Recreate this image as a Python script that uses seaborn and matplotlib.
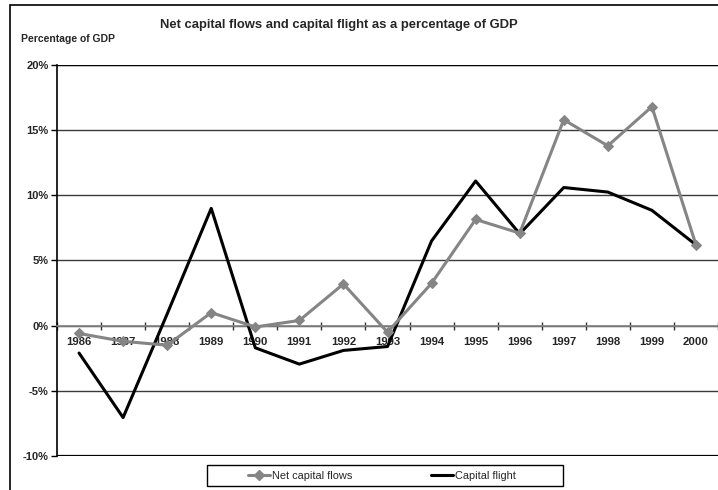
import numpy as np
import pandas as pd
import matplotlib
matplotlib.use("Agg")
import matplotlib.pyplot as plt
from matplotlib.ticker import FixedLocator, FuncFormatter
from matplotlib.lines import Line2D
from matplotlib.patches import Rectangle
import seaborn as sns

years = ["1986", "1987", "1988", "1989", "1990", "1991", "1992", "1993",
         "1994", "1995", "1996", "1997", "1998", "1999", "2000"]
net_capital_flows = [-0.6, -1.2, -1.5, 1.0, -0.1, 0.4, 3.2, -0.5,
                     3.25, 8.15, 7.1, 15.8, 13.8, 16.8, 6.2]
capital_flight = [-2.1, -7.05, 0.9, 9.0, -1.7, -2.95, -1.9, -1.6,
                  6.5, 11.1, 7.05, 10.6, 10.25, 8.85, 6.2]
y_ticks = [-10, -5, 0, 5, 10, 15, 20]

sns.set_theme(style="white")
plt.rcParams['font.family'] = ['Liberation Sans', 'DejaVu Sans']

pos = np.arange(len(years))
df = pd.DataFrame({"pos": pos, "net": net_capital_flows, "flight": capital_flight})

fig = plt.figure(figsize=(7.18, 4.9), dpi=100)
ax = fig.add_axes([57/718, 1 - 456/490, 661/718, (456 - 65)/490])

GRAY = "#858585"
sns.lineplot(data=df, x="pos", y="flight", ax=ax, color="black", lw=2.2, zorder=3)
sns.lineplot(data=df, x="pos", y="net", ax=ax, color=GRAY, lw=2.2, marker="D",
             markersize=5, markeredgecolor=GRAY, zorder=4)

ax.set_xlim(-0.5, len(years) - 0.5)
ax.set_ylim(y_ticks[0], y_ticks[-1])
ax.set_xlabel("")
ax.set_ylabel("")

# y axis
ax.yaxis.set_major_locator(FixedLocator(y_ticks))
ax.yaxis.set_major_formatter(FuncFormatter(lambda v, p: f"{int(v)}%"))
ax.tick_params(axis="y", which="major", direction="out", length=4, width=1,
               color="black", left=True, labelsize=8, pad=2)
for lab in ax.get_yticklabels():
    lab.set_fontweight("bold")
ax.grid(axis="y", color="#3a3a3a", lw=1)
ax.grid(axis="x", visible=False)

# x axis at zero
ax.spines["bottom"].set_position(("data", 0))
ax.spines["bottom"].set_color(GRAY)
ax.spines["bottom"].set_linewidth(1.2)
ax.spines["right"].set_visible(False)
ax.spines["top"].set_visible(False)
ax.spines["left"].set_color("black")
ax.spines["left"].set_linewidth(1.2)
ax.set_xticks(pos)
ax.set_xticklabels(years, fontsize=8.2, fontweight="bold")
ax.set_xticks(np.arange(-0.5, len(years) - 0.5 + 1), minor=True)
ax.tick_params(axis="x", which="major", length=0, pad=8, bottom=True)
ax.tick_params(axis="x", which="minor", direction="inout", length=6, width=1,
               color="#333333", bottom=True)
ax.axhline(y_ticks[0], color="black", lw=1.6, zorder=2)
ax.axhline(y_ticks[-1], color="black", lw=1.6, zorder=2)

# titles
fig.text(338.5/718, 1 - 25/490, "Net capital flows and capital flight as a percentage of GDP",
         ha="center", va="center", fontsize=9.4, fontweight="bold")
fig.text(21/718, 1 - 39.5/490, "Percentage of GDP", ha="left", va="center",
         fontsize=7.5, fontweight="bold")

# outer border
fig.patches.append(Rectangle((10/718, -0.1), 1.0, 1 - 5/490 + 0.1,
                             transform=fig.transFigure, fill=False,
                             edgecolor="black", lw=1.2))

# legend box + entries
fig.patches.append(Rectangle((207/718, 1 - 486/490), (563 - 207)/718, (486 - 465)/490,
                             transform=fig.transFigure, fill=True, facecolor="white",
                             edgecolor="black", lw=1.0, zorder=5))
handles = [Line2D([], [], color=GRAY, lw=2.2, marker="D", markersize=5,
                  markeredgecolor=GRAY),
           Line2D([], [], color="black", lw=2.2)]
leg = fig.legend(handles, ["Net capital flows", "Capital flight"],
                 loc="center", bbox_to_anchor=(382/718, 1 - 475.5/490),
                 ncol=2, fontsize=7.9, frameon=False,
                 handlelength=2.0, handletextpad=0.2,
                 columnspacing=7.2, borderpad=0.2)
leg.set_zorder(6)

fig.savefig("out.png", dpi=100)
